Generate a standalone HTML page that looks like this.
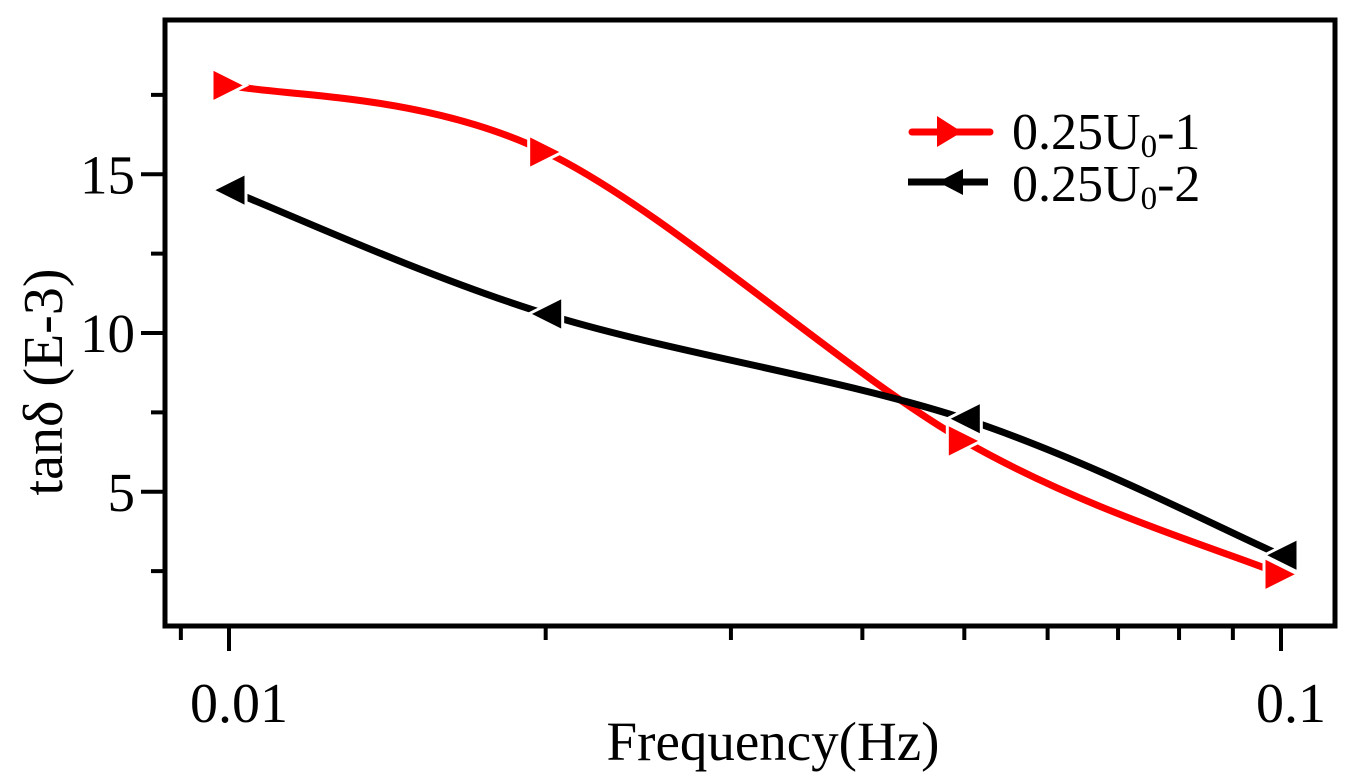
<!DOCTYPE html>
<html><head><meta charset="utf-8"><style>
html,body{margin:0;padding:0;background:#fff}
svg{display:block}
text{font-family:"Liberation Serif",serif;fill:#000}
</style></head><body>
<svg id="chart" width="1367" height="780" viewBox="0 0 1367 780">
<rect x="165" y="20" width="1170" height="606" fill="none" stroke="#000" stroke-width="5"/>
<g id="ticks"></g>
<g id="series"></g>
<text x="62" y="382" font-size="56" text-anchor="middle" transform="rotate(-90 62 382)">tanδ (E-3)</text>
<text x="773" y="760" font-size="55" text-anchor="middle">Frequency(Hz)</text>
<g>
<g>
<line x1="912" y1="132" x2="990" y2="132" stroke="#f00" stroke-width="7" stroke-linecap="round"/>
<polygon points="937,116 962,132 937,147" fill="#f00"/>
<text x="1012" y="149" font-size="52">0.25U<tspan font-size="33" dy="8">0</tspan><tspan dy="-8">-1</tspan></text>
</g>
<g>
<line x1="908" y1="182" x2="988" y2="182" stroke="#000" stroke-width="7"/>
<polygon points="963,169 938,182 963,195" fill="#000"/>
<text x="1012" y="201" font-size="52">0.25U<tspan font-size="33" dy="8">0</tspan><tspan dy="-8">-2</tspan></text>
</g>
</g>
</svg>
<script>
const freqs = [0.01, 0.02, 0.05, 0.1];
const series1 = [17.8, 15.7, 6.6, 2.4];
const series2 = [14.5, 10.6, 7.3, 3.0];
const yTickLabels = [5, 10, 15];
const yMinorTicks = [2.5, 7.5, 12.5, 17.5];
const xMajorTicks = [0.01, 0.1];
const xTickLabels = ["0.01", "0.1"];
const xMinorTicks = [0.009, 0.02, 0.03, 0.04, 0.05, 0.06, 0.07, 0.08, 0.09];

const NS = "http://www.w3.org/2000/svg";
function xs(v){ return 229 + (Math.log10(v) + 2) * 1052; }
function ys(v){ return 650.5 - v * 31.75; }
function mk(tag, attrs, parent){
  const e = document.createElementNS(NS, tag);
  for (const k in attrs) e.setAttribute(k, attrs[k]);
  parent.appendChild(e); return e;
}
const tk = document.getElementById('ticks');
yTickLabels.forEach(v => {
  const l = mk('line', {x1:141, x2:165, y1:ys(v), y2:ys(v), stroke:'#000', 'stroke-width':4}, tk);
  
  
  const t = mk('text', {x:135, y:ys(v)+19, 'font-size':55, 'text-anchor':'end'}, tk);
  t.textContent = v;
  
  
});
yMinorTicks.forEach(v => {
  const l = mk('line', {x1:151, x2:165, y1:ys(v), y2:ys(v), stroke:'#000', 'stroke-width':4}, tk);
  
  
});
xMajorTicks.forEach((v, i) => {
  const l = mk('line', {x1:xs(v), x2:xs(v), y1:626, y2:651, stroke:'#000', 'stroke-width':4}, tk);
  
  
  const t = mk('text', {x:xs(v)+10, y:722, 'font-size':56, 'text-anchor':'middle'}, tk);
  t.textContent = xTickLabels[i];
  
  
});
xMinorTicks.forEach(v => {
  const l = mk('line', {x1:xs(v), x2:xs(v), y1:626, y2:640, stroke:'#000', 'stroke-width':4}, tk);
  
  
});
function spline(pts){
  let d = `M${pts[0][0]},${pts[0][1]}`;
  for (let i = 0; i < pts.length - 1; i++){
    const p0 = pts[Math.max(0,i-1)], p1 = pts[i], p2 = pts[i+1], p3 = pts[Math.min(pts.length-1,i+2)];
    const c1 = [p1[0]+(p2[0]-p0[0])/6, p1[1]+(p2[1]-p0[1])/6];
    const c2 = [p2[0]-(p3[0]-p1[0])/6, p2[1]-(p3[1]-p1[1])/6];
    d += ` C${c1[0]},${c1[1]} ${c2[0]},${c2[1]} ${p2[0]},${p2[1]}`;
  }
  return d;
}
const sg = document.getElementById('series');
function draw(vals, color, right, name){
  const pts = freqs.map((f,i)=>[xs(f), ys(vals[i])]);
  const p = mk('path', {d:spline(pts), fill:'none', stroke:color, 'stroke-width':7}, sg);
  
  
  pts.forEach(([x,y]) => {
    const s = 17;
    const ptsStr = right ? `${x-s},${y-s} ${x+s},${y} ${x-s},${y+s}` : `${x+s},${y-s} ${x-s},${y} ${x+s},${y+s}`;
    const m = mk('polygon', {points:ptsStr, fill:color, stroke:'#fff', 'stroke-width':3}, sg);
    
    
  });
}
draw(series1, '#f00', true, 'series-1');
draw(series2, '#000', false, 'series-2');
</script>
</body></html>
